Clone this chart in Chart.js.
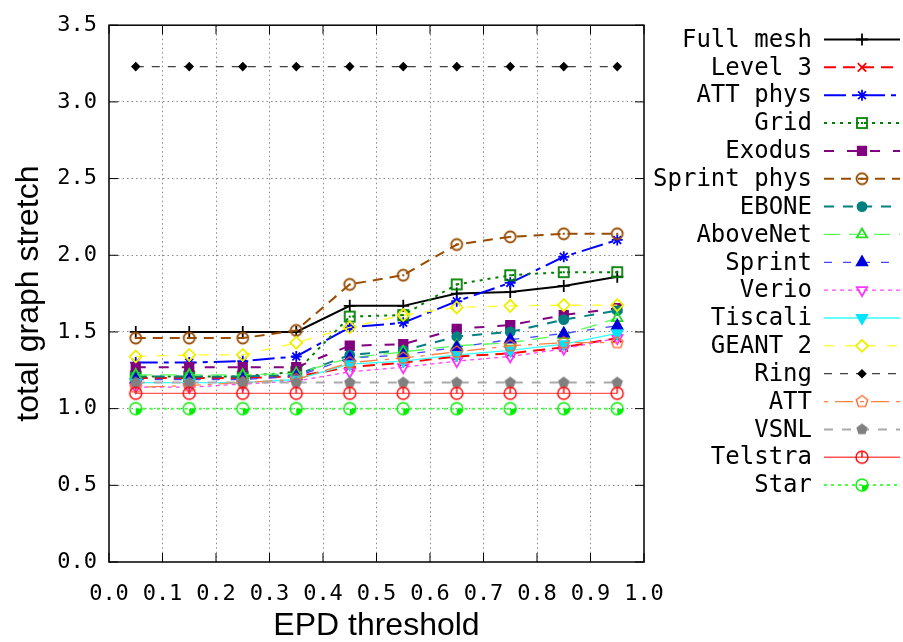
<!DOCTYPE html>
<html>
<head>
<meta charset="utf-8">
<script src="https://cdn.jsdelivr.net/npm/chart.js"></script>
<style>
  html, body { margin: 0; padding: 0; background: #fff; }
</style>
</head>
<body>
<canvas id="chart" width="903" height="642"></canvas>
<script>
// EPD threshold values (x) for every series
const thresholds = [0.05, 0.15, 0.25, 0.35, 0.45, 0.55, 0.65, 0.75, 0.85, 0.95];

// total graph stretch per topology
const fullMesh   = [1.50, 1.50, 1.50, 1.50, 1.67, 1.67, 1.75, 1.76, 1.80, 1.86];
const level3     = [1.20, 1.20, 1.20, 1.21, 1.27, 1.30, 1.34, 1.36, 1.40, 1.46];
const attPhys    = [1.30, 1.30, 1.31, 1.34, 1.53, 1.56, 1.70, 1.82, 1.99, 2.10];
const gridTopo   = [1.21, 1.21, 1.21, 1.24, 1.60, 1.61, 1.81, 1.87, 1.89, 1.89];
const exodus     = [1.27, 1.27, 1.27, 1.27, 1.41, 1.42, 1.52, 1.545, 1.61, 1.655];
const sprintPhys = [1.46, 1.46, 1.46, 1.51, 1.81, 1.87, 2.07, 2.12, 2.14, 2.14];
const ebone      = [1.21, 1.21, 1.21, 1.22, 1.35, 1.38, 1.47, 1.50, 1.58, 1.64];
const aboveNet   = [1.22, 1.22, 1.22, 1.23, 1.33, 1.37, 1.41, 1.43, 1.48, 1.59];
const sprint     = [1.19, 1.19, 1.19, 1.21, 1.33, 1.35, 1.40, 1.45, 1.49, 1.54];
const verio      = [1.14, 1.14, 1.16, 1.18, 1.24, 1.27, 1.31, 1.34, 1.39, 1.46];
const tiscali    = [1.17, 1.17, 1.17, 1.19, 1.29, 1.31, 1.35, 1.38, 1.42, 1.49];
const geant2     = [1.34, 1.35, 1.35, 1.43, 1.53, 1.61, 1.66, 1.67, 1.675, 1.675];
const ring       = [3.23, 3.23, 3.23, 3.23, 3.23, 3.23, 3.23, 3.23, 3.23, 3.23];
const att        = [1.14, 1.15, 1.17, 1.19, 1.30, 1.33, 1.37, 1.41, 1.43, 1.43];
const vsnl       = [1.17, 1.17, 1.17, 1.17, 1.17, 1.17, 1.17, 1.17, 1.17, 1.17];
const telstra    = [1.10, 1.10, 1.10, 1.10, 1.10, 1.10, 1.10, 1.10, 1.10, 1.10];
const star       = [1.00, 1.00, 1.00, 1.00, 1.00, 1.00, 1.00, 1.00, 1.00, 1.00];

const seriesNames = ['Full mesh', 'Level 3', 'ATT phys', 'Grid', 'Exodus', 'Sprint phys', 'EBONE',
  'AboveNet', 'Sprint', 'Verio', 'Tiscali', 'GEANT 2', 'Ring', 'ATT', 'VSNL', 'Telstra', 'Star'];
const seriesValues = [fullMesh, level3, attPhys, gridTopo, exodus, sprintPhys, ebone,
  aboveNet, sprint, verio, tiscali, geant2, ring, att, vsnl, telstra, star];

const xTickLabels = ['0.0', '0.1', '0.2', '0.3', '0.4', '0.5', '0.6', '0.7', '0.8', '0.9', '1.0'];
const yTickLabels = ['0.0', '0.5', '1.0', '1.5', '2.0', '2.5', '3.0', '3.5'];

const MONO = '"DejaVu Sans Mono", monospace';
const SANS = '"Liberation Sans", Arial, sans-serif';

// small canvas markers for the gnuplot point types Chart.js lacks
function makeMarker(draw) {
  const c = document.createElement('canvas');
  c.width = 16; c.height = 16;
  const g = c.getContext('2d');
  g.translate(8, 8);
  draw(g);
  return c;
}
function pentagonPath(g, r) {
  g.beginPath();
  for (let k = 0; k < 5; k++) {
    const a = -Math.PI / 2 + k * 2 * Math.PI / 5;
    g.lineTo(r * Math.cos(a), r * Math.sin(a));
  }
  g.closePath();
}
const boxDot = makeMarker(g => {
  g.strokeStyle = '#008000'; g.lineWidth = 1.8;
  g.strokeRect(-5, -5, 10, 10);
  g.fillStyle = '#008000'; g.fillRect(-1, -1, 2, 2);
});
const circleDot = makeMarker(g => {
  g.strokeStyle = '#994c00'; g.lineWidth = 1.8;
  g.beginPath(); g.arc(0, 0, 5.5, 0, 2 * Math.PI); g.stroke();
  g.fillStyle = '#994c00'; g.fillRect(-1, -1, 2, 2);
});
const pentaOpen = makeMarker(g => {
  g.strokeStyle = '#ff6a2a'; g.lineWidth = 1.4;
  pentagonPath(g, 6); g.stroke();
});
const pentaFull = makeMarker(g => {
  g.fillStyle = '#808080';
  pentagonPath(g, 6); g.fill();
});
const circleTick = makeMarker(g => {
  g.strokeStyle = '#ff0000'; g.lineWidth = 1.4;
  g.beginPath(); g.arc(0, 0, 6, 0, 2 * Math.PI); g.stroke();
  g.beginPath(); g.moveTo(0, 0); g.lineTo(0, -6); g.stroke();
});
const circleQuarter = makeMarker(g => {
  g.strokeStyle = '#00ee00'; g.fillStyle = '#00ee00'; g.lineWidth = 1.4;
  g.beginPath(); g.arc(0, 0, 6, 0, 2 * Math.PI); g.stroke();
  g.beginPath(); g.moveTo(0, 0); g.arc(0, 0, 6, 0, Math.PI / 2); g.closePath(); g.fill();
});

// line / marker style per series (same order as seriesNames)
const looks = [
  { line: '#000000', w: 2,   dash: [],            mark: 'cross',    mc: '#000000', fill: false, r: 6 },
  { line: '#ff0000', w: 2,   dash: [12, 7],       mark: 'crossRot', mc: '#ff0000', fill: false, r: 6 },
  { line: '#0000ff', w: 2,   dash: [22, 6, 5, 6], mark: 'star',     mc: '#0000ff', fill: false, r: 5.5 },
  { line: '#008000', w: 2,   dash: [3, 5],        mark: boxDot },
  { line: '#800080', w: 2,   dash: [10, 13],      mark: 'rect',     mc: '#800080', fill: true,  r: 6 },
  { line: '#994c00', w: 2,   dash: [10, 7],       mark: circleDot },
  { line: '#008080', w: 2,   dash: [10, 9],       mark: 'circle',   mc: '#008080', fill: true,  r: 4.5 },
  { line: '#55ff55', w: 1.3, dash: [16, 9],       mark: 'triangle', mc: '#22dd22', fill: false, r: 6 },
  { line: '#4444ff', w: 1.3, dash: [8, 11],       mark: 'triangle', mc: '#0000dd', fill: true,  r: 6 },
  { line: '#ff44ff', w: 1.3, dash: [4, 4],        mark: 'triangle', mc: '#ff33ff', fill: false, r: 6, rot: 180 },
  { line: '#33ffff', w: 1.3, dash: [],            mark: 'triangle', mc: '#00e5ff', fill: true,  r: 6, rot: 180 },
  { line: '#ffff22', w: 1.3, dash: [10, 11],      mark: 'rectRot',  mc: '#eeee00', fill: false, r: 6 },
  { line: '#404040', w: 1.3, dash: [8, 8],        mark: 'rectRot',  mc: '#000000', fill: true,  r: 3.5 },
  { line: '#ff8040', w: 1.3, dash: [4, 7, 18, 7], mark: pentaOpen },
  { line: '#aaaaaa', w: 2,   dash: [9, 9],        mark: pentaFull },
  { line: '#ff5555', w: 1.3, dash: [],            mark: circleTick },
  { line: '#44ff44', w: 2,   dash: [3, 4],        mark: circleQuarter }
];

const datasets = seriesNames.map((name, i) => {
  const lk = looks[i];
  const isImage = typeof lk.mark !== 'string';
  return {
    label: name,
    data: thresholds.map((x, j) => ({ x: x, y: seriesValues[i][j] })),
    borderColor: lk.line,
    borderWidth: lk.w,
    borderDash: lk.dash,
    pointStyle: lk.mark,
    pointRadius: isImage ? 6 : lk.r,
    pointRotation: lk.rot || 0,
    pointBorderColor: isImage ? lk.line : lk.mc,
    pointBackgroundColor: (!isImage && lk.fill) ? lk.mc : 'rgba(0,0,0,0)',
    pointBorderWidth: isImage ? 0 : 1.8,
    fill: false,
    tension: 0,
    order: -i
  };
});

// gnuplot-like frame with inward ticks on all four sides
const frame = {
  id: 'frame',
  afterDatasetsDraw(chart) {
    const { ctx, chartArea: a, scales } = chart;
    ctx.save();
    ctx.strokeStyle = '#000';
    ctx.lineWidth = 1.5;
    ctx.strokeRect(a.left, a.top, a.right - a.left, a.bottom - a.top);
    ctx.beginPath();
    xTickLabels.forEach(t => {
      const px = scales.x.getPixelForValue(parseFloat(t));
      ctx.moveTo(px, a.bottom); ctx.lineTo(px, a.bottom - 9);
      ctx.moveTo(px, a.top); ctx.lineTo(px, a.top + 9);
    });
    yTickLabels.forEach(t => {
      const py = scales.y.getPixelForValue(parseFloat(t));
      ctx.moveTo(a.left, py); ctx.lineTo(a.left + 9, py);
      ctx.moveTo(a.right, py); ctx.lineTo(a.right - 9, py);
    });
    ctx.lineWidth = 1;
    ctx.stroke();
    ctx.restore();
  }
};

// right-aligned key: title, then line sample with marker
const gnuKey = {
  id: 'gnuKey',
  afterDraw(chart) {
    const ctx = chart.ctx;
    chart.data.datasets.forEach((ds, i) => {
      const y = 39.5 + i * 27.85;
      ctx.save();
      ctx.font = '24px ' + MONO;
      ctx.fillStyle = '#000';
      ctx.textAlign = 'right';
      ctx.textBaseline = 'middle';
      ctx.fillText(ds.label, 812, y + 1);
      ctx.strokeStyle = ds.borderColor;
      ctx.lineWidth = ds.borderWidth;
      ctx.setLineDash(ds.borderDash);
      ctx.beginPath();
      ctx.moveTo(824, y); ctx.lineTo(900, y);
      ctx.stroke();
      ctx.setLineDash([]);
      ctx.strokeStyle = ds.pointBorderColor;
      ctx.fillStyle = ds.pointBackgroundColor;
      ctx.lineWidth = ds.pointBorderWidth;
      Chart.helpers.drawPoint(ctx, {
        pointStyle: ds.pointStyle,
        radius: ds.pointRadius,
        rotation: ds.pointRotation,
        borderWidth: ds.pointBorderWidth
      }, 862, y);
      ctx.restore();
    });
  }
};

const gridColor = (lo, hi) => c => (c.tick.value > lo && c.tick.value < hi) ? '#8a8a8a' : 'rgba(0,0,0,0)';

new Chart(document.getElementById('chart'), {
  type: 'line',
  data: { datasets },
  options: {
    responsive: false,
    animation: false,
    devicePixelRatio: 1,
    layout: { padding: { top: 25, right: 259, left: 0, bottom: 0 } },
    plugins: { legend: { display: false }, tooltip: { enabled: false } },
    scales: {
      x: {
        type: 'linear',
        min: 0,
        max: 1,
        afterFit: s => { s.height = 80; },
        afterBuildTicks: s => { s.ticks = xTickLabels.map(t => ({ value: parseFloat(t) })); },
        ticks: {
          autoSkip: false,
          maxRotation: 0,
          padding: 19,
          color: '#000',
          font: { family: MONO, size: 22 },
          callback: (v, i) => xTickLabels[i]
        },
        grid: { color: gridColor(0.001, 0.999), drawTicks: false, lineWidth: 1 },
        border: { display: false, dash: [1.5, 3] },
        title: {
          display: true,
          text: 'EPD threshold',
          color: '#000',
          font: { family: SANS, size: 32, lineHeight: 1 },
          padding: { top: 0, bottom: 0 }
        }
      },
      y: {
        min: 0,
        max: 3.5,
        afterFit: s => { s.width = 109; },
        afterBuildTicks: s => { s.ticks = yTickLabels.map(t => ({ value: parseFloat(t) })); },
        ticks: {
          padding: 12,
          color: '#000',
          font: { family: MONO, size: 22 },
          callback: (v, i) => yTickLabels[i]
        },
        grid: { color: gridColor(0.001, 3.499), drawTicks: false, lineWidth: 1 },
        border: { display: false, dash: [1.5, 3] },
        title: {
          display: true,
          text: 'total graph stretch',
          color: '#000',
          font: { family: SANS, size: 32, lineHeight: 1 },
          padding: { top: 13, bottom: 0 }
        }
      }
    }
  },
  plugins: [frame, gnuKey]
});
</script>
</body>
</html>
